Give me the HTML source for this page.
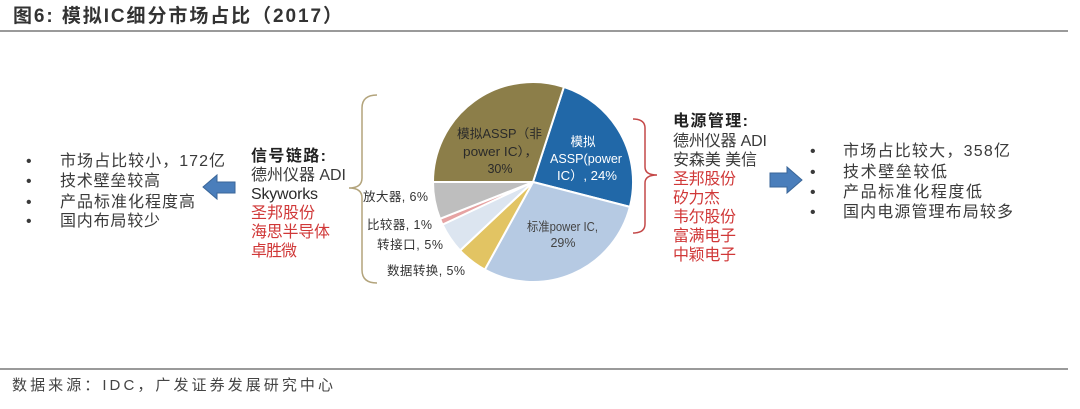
<!DOCTYPE html>
<html>
<head>
<meta charset="utf-8">
<style>
html,body{margin:0;padding:0;background:#fff;}
svg{display:block;}
text{font-family:"Liberation Sans","Noto Sans CJK SC",sans-serif;}
</style>
</head>
<body>
<svg width="1080" height="409" viewBox="0 0 1080 409" xmlns="http://www.w3.org/2000/svg">
  <!-- title -->
  <text x="13" y="22" font-size="19" font-weight="bold" fill="#333" textLength="329" lengthAdjust="spacing">图6:  模拟IC细分市场占比（2017）</text>
  <rect x="0" y="30" width="1068" height="2" fill="#9a9a9a"/>

  <!-- pie -->
  <g stroke="#fff" stroke-width="2" stroke-linejoin="round">
    <path d="M533,182 L563.9,86.9 A100,100 0 0 1 629.9,206.9 Z" fill="#2168A8"/>
    <path d="M533,182 L629.9,206.9 A100,100 0 0 1 484.8,269.6 Z" fill="#B6CAE3"/>
    <path d="M533,182 L484.8,269.6 A100,100 0 0 1 460.1,250.5 Z" fill="#E2C463"/>
    <path d="M533,182 L460.1,250.5 A100,100 0 0 1 442.5,224.6 Z" fill="#DCE5F0"/>
    <path d="M533,182 L442.5,224.6 A100,100 0 0 1 440.0,218.8 Z" fill="#E6A3A3"/>
    <path d="M533,182 L440.0,218.8 A100,100 0 0 1 433,182 Z" fill="#BEBEBE"/>
    <path d="M533,182 L433,182 A100,100 0 0 1 563.9,86.9 Z" fill="#8C7E49"/>
  </g>

  <!-- pie inner labels -->
  <g font-size="12.5" fill="#2a2a2a">
    <text x="457" y="138" textLength="85" lengthAdjust="spacingAndGlyphs">模拟ASSP（非</text>
    <text x="463" y="156" textLength="75" lengthAdjust="spacingAndGlyphs">power IC），</text>
    <text x="500" y="173" text-anchor="middle">30%</text>
    <text x="527" y="231" textLength="71" lengthAdjust="spacingAndGlyphs" fill="#444">标准power IC,</text>
    <text x="563" y="247" text-anchor="middle" fill="#444">29%</text>
  </g>
  <g font-size="12.5" fill="#fff">
    <text x="583" y="146" text-anchor="middle">模拟</text>
    <text x="550" y="163" textLength="72" lengthAdjust="spacingAndGlyphs">ASSP(power</text>
    <text x="557" y="180" textLength="60" lengthAdjust="spacingAndGlyphs">IC）, 24%</text>
  </g>

  <!-- outside labels -->
  <g font-size="12.5" fill="#333">
    <text x="363" y="201" textLength="65" lengthAdjust="spacing">放大器, 6%</text>
    <text x="367" y="229" textLength="65" lengthAdjust="spacing">比较器, 1%</text>
    <text x="377" y="249" textLength="66" lengthAdjust="spacing">转接口, 5%</text>
    <text x="387" y="275" textLength="78" lengthAdjust="spacing">数据转换, 5%</text>
  </g>

  <!-- braces -->
  <path d="M377,95 Q362,95 362,108 L362,178 Q362,188 349,188 Q362,188 362,198 L362,270 Q362,283 377,283" fill="none" stroke="#B3A47C" stroke-width="1.5"/>
  <path d="M633,119 Q645,119 645,128 L645,167 Q645,175 657,175 Q645,175 645,183 L645,224 Q645,233 633,233" fill="none" stroke="#C44848" stroke-width="1.5"/>

  <!-- arrows -->
  <polygon points="203,187 217,175 217,182 235,182 235,193 217,193 217,199" fill="#4A7EBB" stroke="#3A6698" stroke-width="1"/>
  <polygon points="770,173 787,173 787,167 802,180 787,193 787,187 770,187" fill="#4A7EBB" stroke="#3A6698" stroke-width="1"/>

  <!-- left bullets -->
  <g font-size="16" fill="#3a3a3a">
    <text x="26" y="166">•</text>
    <text x="26" y="186">•</text>
    <text x="26" y="207">•</text>
    <text x="26" y="226">•</text>
    <text x="60" y="166" textLength="165" lengthAdjust="spacing">市场占比较小，172亿</text>
    <text x="60" y="186" textLength="100" lengthAdjust="spacing">技术壁垒较高</text>
    <text x="60" y="207" textLength="135" lengthAdjust="spacing">产品标准化程度高</text>
    <text x="60" y="226" textLength="100" lengthAdjust="spacing">国内布局较少</text>
  </g>

  <!-- signal chain list -->
  <g font-size="16">
    <text x="251" y="161" font-weight="bold" fill="#222" textLength="75" lengthAdjust="spacing">信号链路:</text>
    <text x="251" y="180" fill="#3a3a3a" textLength="95" lengthAdjust="spacing">德州仪器 ADI</text>
    <text x="251" y="199" fill="#2a2a2a" textLength="67" lengthAdjust="spacing">Skyworks</text>
    <text x="251" y="218" fill="#D03838" textLength="64" lengthAdjust="spacing">圣邦股份</text>
    <text x="251" y="237" fill="#D03838" textLength="79" lengthAdjust="spacing">海思半导体</text>
    <text x="251" y="256" fill="#D03838" textLength="46" lengthAdjust="spacing">卓胜微</text>
  </g>

  <!-- power management list -->
  <g font-size="16">
    <text x="673" y="126" font-weight="bold" fill="#222" textLength="75" lengthAdjust="spacing">电源管理:</text>
    <text x="673" y="146" fill="#3a3a3a" textLength="94" lengthAdjust="spacing">德州仪器 ADI</text>
    <text x="673" y="165" fill="#3a3a3a" textLength="84" lengthAdjust="spacing">安森美 美信</text>
    <text x="673" y="184" fill="#D03838" textLength="63" lengthAdjust="spacing">圣邦股份</text>
    <text x="673" y="203" fill="#D03838" textLength="47" lengthAdjust="spacing">矽力杰</text>
    <text x="673" y="222" fill="#D03838" textLength="63" lengthAdjust="spacing">韦尔股份</text>
    <text x="673" y="241" fill="#D03838" textLength="63" lengthAdjust="spacing">富满电子</text>
    <text x="673" y="260" fill="#D03838" textLength="63" lengthAdjust="spacing">中颖电子</text>
  </g>

  <!-- right bullets -->
  <g font-size="16" fill="#3a3a3a">
    <text x="810" y="156">•</text>
    <text x="810" y="177">•</text>
    <text x="810" y="197">•</text>
    <text x="810" y="217">•</text>
    <text x="843" y="156" textLength="167" lengthAdjust="spacing">市场占比较大，358亿</text>
    <text x="843" y="177" textLength="104" lengthAdjust="spacing">技术壁垒较低</text>
    <text x="843" y="197" textLength="139" lengthAdjust="spacing">产品标准化程度低</text>
    <text x="843" y="217" textLength="170" lengthAdjust="spacing">国内电源管理布局较多</text>
  </g>

  <!-- footer -->
  <rect x="0" y="368" width="1068" height="2" fill="#9a9a9a"/>
  <text x="12" y="390" font-size="15" fill="#444" textLength="321" lengthAdjust="spacing">数据来源：IDC，广发证券发展研究中心</text>
</svg>
</body>
</html>
